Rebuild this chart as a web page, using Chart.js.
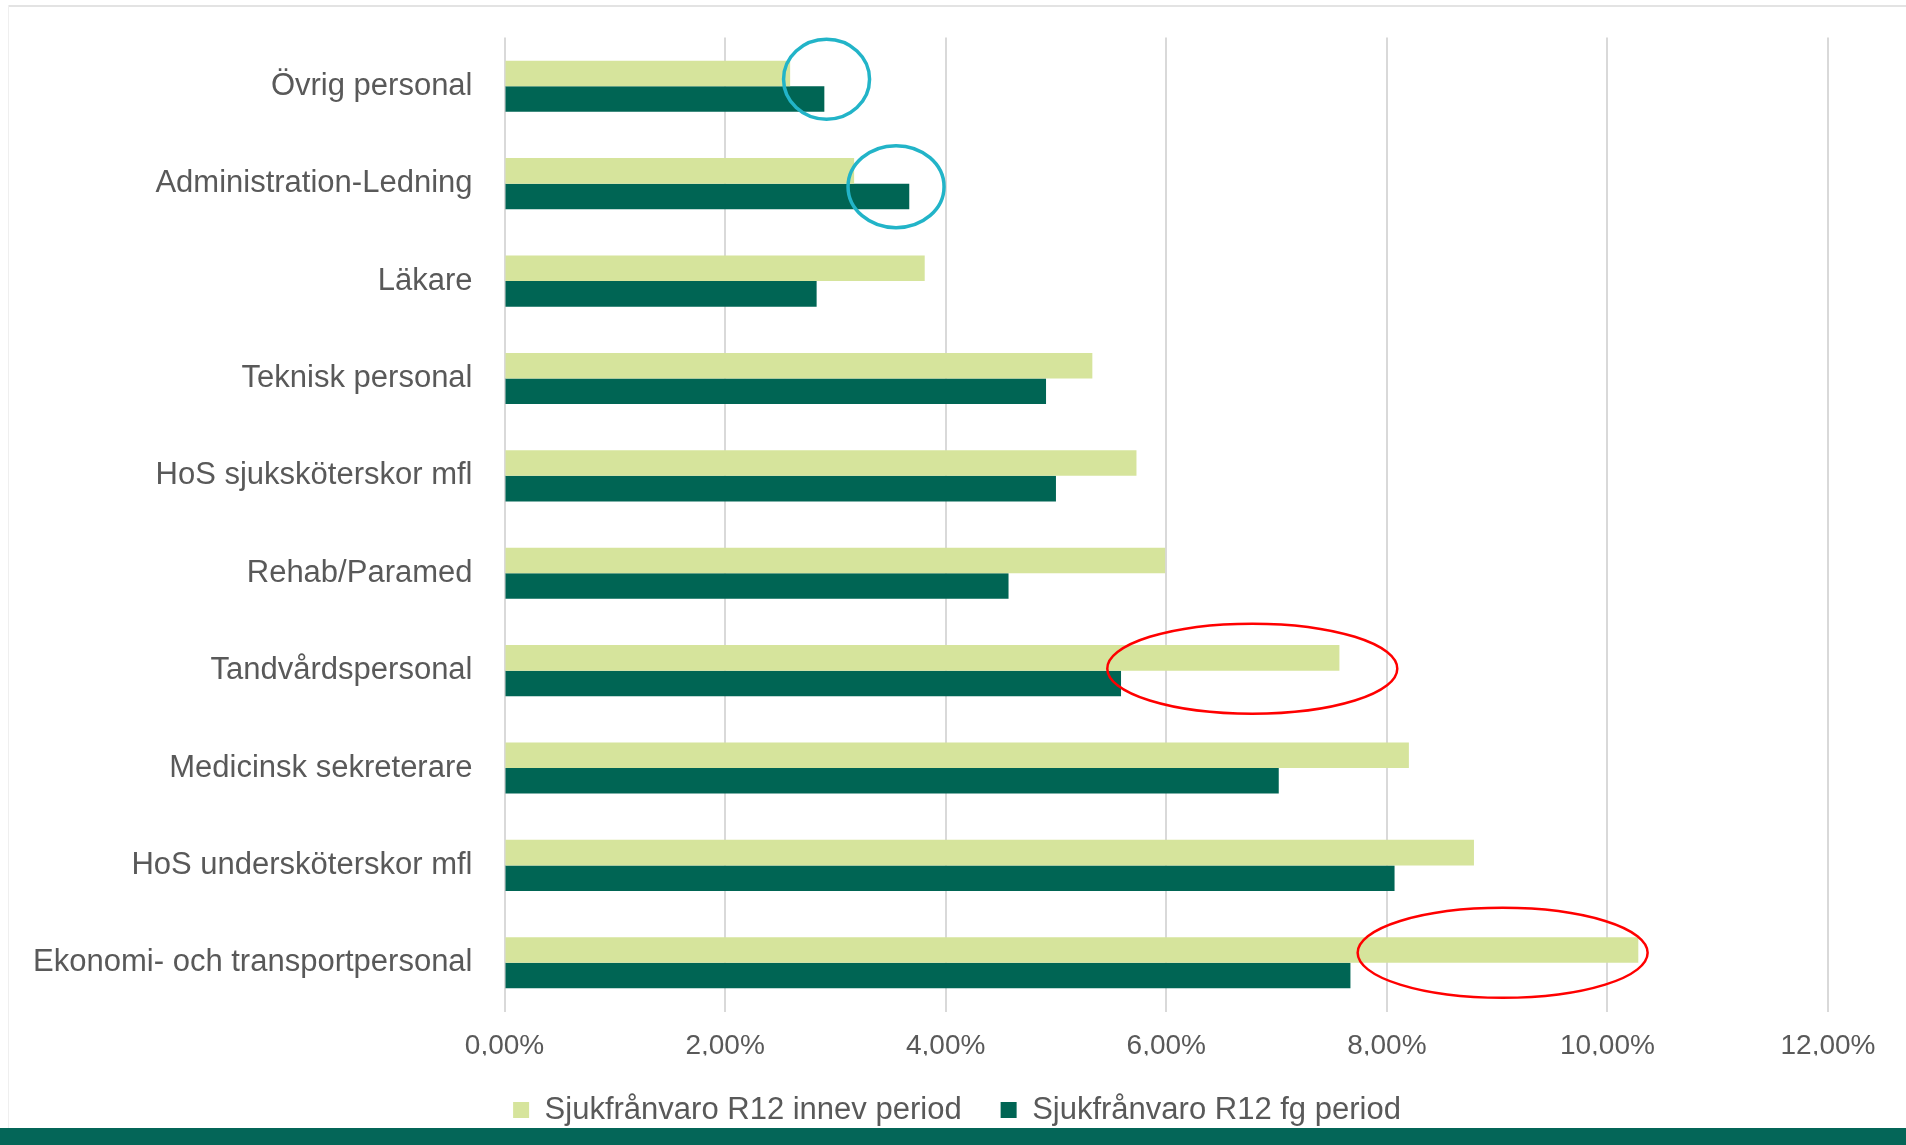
<!DOCTYPE html>
<html>
<head>
<meta charset="utf-8">
<script src="https://cdn.jsdelivr.net/npm/chart.js@4"></script>
<style>
  html, body { margin: 0; padding: 0; background: #fff; }
  #wrap { position: relative; width: 1906px; height: 1145px; overflow: hidden; }
  #topline { position: absolute; left: 8px; top: 5px; right: 0; height: 2px; background: #e3e3e3; }
  #leftline { position: absolute; left: 8px; top: 5px; width: 1px; bottom: 0; background: #efefef; }
  #band { position: absolute; left: 0; right: 0; top: 1128px; height: 17px; background: #046658; }
</style>
</head>
<body>
<div id="wrap">
  <canvas id="chart" width="1906" height="1145"></canvas>
  <div id="topline"></div>
  <div id="leftline"></div>
  <div id="band"></div>
</div>
<script>
// kategorier uppifrån och ned
var categories = [
	"Övrig personal",
	"Administration-Ledning",
	"Läkare",
	"Teknisk personal",
	"HoS sjuksköterskor mfl",
	"Rehab/Paramed",
	"Tandvårdspersonal",
	"Medicinsk sekreterare",
	"HoS undersköterskor mfl",
	"Ekonomi- och transportpersonal"
];

var seriesNames = ["Sjukfrånvaro R12 innev period", "Sjukfrånvaro R12 fg period"];

// procent
var innevPeriod = [2.59, 3.17, 3.81, 5.33, 5.73, 5.99, 7.57, 8.20, 8.79, 10.28];
var fgPeriod    = [2.90, 3.67, 2.83, 4.91, 5.00, 4.57, 5.59, 7.02, 8.07, 7.67];

var xTicks = [0, 2, 4, 6, 8, 10, 12];

// markeringar (ringar) i bilden: kategori + värde på x-axeln
var ringCategory = [0, 1, 6, 9];
var ringValue    = [2.92, 3.55, 6.78, 9.05];

var textGrey = "#595959";
var fontName = "'Liberation Sans', Arial, sans-serif";

var ringStyle = [
	{ color: "#22b4c8", width: 3.5, rx: 43, ry: 40, dy: -7 },
	{ color: "#22b4c8", width: 3.5, rx: 48, ry: 41, dy: 3 },
	{ color: "#ff0000", width: 2.5, rx: 145, ry: 45, dy: -2 },
	{ color: "#ff0000", width: 2.5, rx: 145, ry: 45, dy: -10 }
];

var ringPlugin = {
	id: "rings",
	afterDatasetsDraw: function(chart) {
		var ctx = chart.ctx;
		var xs = chart.scales.x, ys = chart.scales.y;
		for (var i = 0; i < ringCategory.length; i++) {
			var st = ringStyle[i];
			var cx = xs.getPixelForValue(ringValue[i]);
			var cy = ys.getPixelForValue(ringCategory[i]) + st.dy;
			ctx.save();
			ctx.beginPath();
			ctx.ellipse(cx, cy, st.rx, st.ry, 0, 0, Math.PI * 2);
			ctx.strokeStyle = st.color;
			ctx.lineWidth = st.width;
			ctx.stroke();
			ctx.restore();
		}
	}
};

// flytta legenden lite åt höger så den centreras under hela bilden
var legendShift = {
	id: "legendShift",
	afterLayout: function(chart) {
		chart.legend.left += 43;
		chart.legend.right += 43;
	}
};

function pct(v) {
	var s = Number(v).toFixed(2).split(".");
	return s[0] + "," + s[1] + "%";
}

var ctx = document.getElementById("chart");

var data = {
	labels: categories,
	datasets: [
		{
			label: seriesNames[0],
			data: innevPeriod,
			backgroundColor: "#d6e49c",
			borderWidth: 0,
			categoryPercentage: 0.525,
			barPercentage: 1
		},
		{
			label: seriesNames[1],
			data: fgPeriod,
			backgroundColor: "#006554",
			borderWidth: 0,
			categoryPercentage: 0.525,
			barPercentage: 1
		}
	]
};

var options = {
	indexAxis: "y",
	responsive: false,
	animation: false,
	layout: {
		padding: { top: 37.6, left: 0, right: 78, bottom: 9.5 }
	},
	scales: {
		x: {
			min: 0,
			max: 12,
			afterBuildTicks: function(scale) {
				scale.ticks = xTicks.map(function(v) { return { value: v }; });
			},
			afterFit: function(scale) { scale.height = 44; },
			grid: { color: "#d9d9d9", lineWidth: 2, drawTicks: false },
			border: { display: false },
			ticks: {
				padding: 18,
				color: textGrey,
				font: { family: fontName, size: 28 },
				callback: function(v) { return pct(v); }
			}
		},
		y: {
			afterFit: function(scale) { scale.width = 504.5; },
			grid: { display: false },
			border: { display: false },
			ticks: {
				padding: 24,
				color: textGrey,
				font: { family: fontName, size: 31, lineHeight: 0.5 }
			}
		}
	},
	plugins: {
		legend: {
			display: true,
			position: "bottom",
			labels: {
				boxWidth: 16,
				boxHeight: 16,
				padding: 39,
				color: textGrey,
				font: { family: fontName, size: 31 }
			}
		},
		tooltip: { enabled: false }
	}
};

var chart = new Chart(ctx, {
	type: "bar",
	data: data,
	options: options,
	plugins: [ringPlugin, legendShift]
});
</script>
</body>
</html>
